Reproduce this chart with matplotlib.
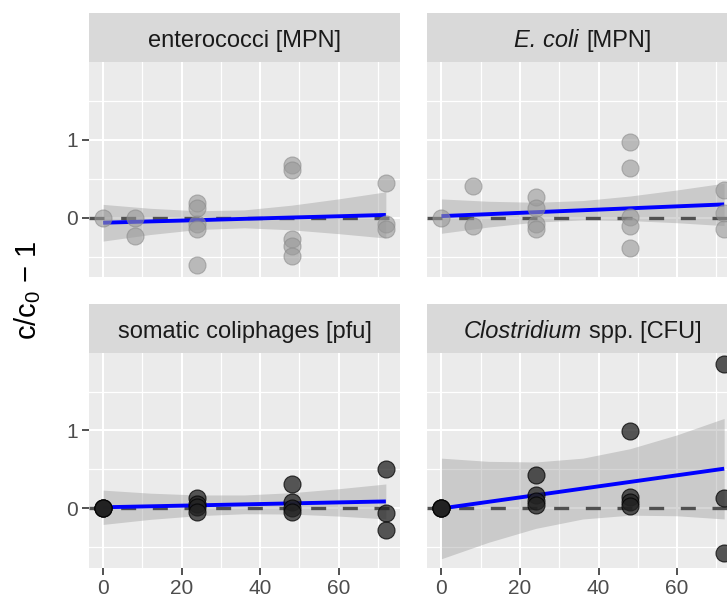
import matplotlib
matplotlib.use('Agg')
import matplotlib.pyplot as plt
from matplotlib.offsetbox import TextArea, HPacker, AnchoredOffsetbox

plt.rcParams['font.family'] = ['Liberation Sans', 'DejaVu Sans']
plt.rcParams['mathtext.fontset'] = 'custom'
plt.rcParams['mathtext.rm'] = 'Liberation Sans'
plt.rcParams['mathtext.it'] = 'Liberation Sans:italic'

# ---------------- data ----------------
# each title is a list of (text, style) pieces
titles = [
    [('enterococci [MPN]', 'normal')],
    [('E. coli', 'italic'), ('[MPN]', 'normal')],
    [('somatic coliphages [pfu]', 'normal')],
    [('Clostridium', 'italic'), ('spp. [CFU]', 'normal')],
]

entero_t = [0, 8, 8, 24, 24, 24, 24, 24, 48, 48, 48, 48, 48, 72, 72, 72]
entero_v = [0.0, 0.0, -0.235, 0.19, 0.13, -0.085, -0.14, -0.60,
            0.68, 0.61, -0.27, -0.36, -0.49, 0.45, -0.085, -0.15]

ecoli_t = [0, 8, 8, 24, 24, 24, 24, 48, 48, 48, 48, 48, 72, 72, 72]
ecoli_v = [0.0, 0.405, -0.11, 0.27, 0.12, -0.08, -0.15,
           0.97, 0.63, 0.01, -0.11, -0.385, 0.36, 0.06, -0.15]

somatic_t = [0, 0, 0, 0, 24, 24, 24, 24, 48, 48, 48, 48, 72, 72, 72]
somatic_v = [0, 0, 0, 0, 0.13, 0.06, 0.02, -0.04,
             0.31, 0.08, 0.0, -0.04, 0.51, -0.06, -0.28]

clost_t = [0, 0, 0, 0, 24, 24, 24, 24, 48, 48, 48, 48, 72, 72, 72]
clost_v = [0, 0, 0, 0, 0.43, 0.17, 0.10, 0.04,
           0.99, 0.15, 0.085, 0.03, 1.85, 0.14, -0.57]

# linear fit and confidence band, read at these times
fit_t = [0, 12, 24, 36, 48, 60, 72]
entero_fit = [-0.065, -0.048, -0.032, -0.015, 0.002, 0.018, 0.035]
entero_hi = [0.17, 0.12, 0.088, 0.10, 0.16, 0.241, 0.331]
entero_lo = [-0.30, -0.216, -0.152, -0.13, -0.156, -0.205, -0.261]

ecoli_fit = [0.02, 0.045, 0.07, 0.095, 0.12, 0.145, 0.17]
ecoli_hi = [0.24, 0.21, 0.197, 0.219, 0.277, 0.355, 0.442]
ecoli_lo = [-0.20, -0.12, -0.057, -0.029, -0.037, -0.065, -0.102]

somatic_fit = [0.015, 0.0275, 0.04, 0.0525, 0.065, 0.0775, 0.09]
somatic_hi = [0.235, 0.196, 0.173, 0.173, 0.202, 0.253, 0.314]
somatic_lo = [-0.205, -0.14, -0.093, -0.068, -0.072, -0.098, -0.134]

clost_fit = [0, 0.085, 0.17, 0.255, 0.34, 0.425, 0.51]
clost_hi = [0.645, 0.604, 0.596, 0.645, 0.766, 0.944, 1.155]
clost_lo = [-0.645, -0.434, -0.256, -0.135, -0.086, -0.094, -0.135]

x_major = [0, 20, 40, 60]
x_minor = [10, 30, 50, 70]
y_major = [0, 1]
y_minor = [-0.5, 0.5, 1.5]

panels = [
    (entero_t, entero_v, entero_fit, entero_lo, entero_hi),
    (ecoli_t, ecoli_v, ecoli_fit, ecoli_lo, ecoli_hi),
    (somatic_t, somatic_v, somatic_fit, somatic_lo, somatic_hi),
    (clost_t, clost_v, clost_fit, clost_lo, clost_hi),
]

# ---------------- layout ----------------
W, H = 727, 599
fig = plt.figure(figsize=(W / 100, H / 100), dpi=100)
fig.patch.set_facecolor('white')


def frac(x0, y0, x1, y1):
    return [x0 / W, 1 - y1 / H, (x1 - x0) / W, (y1 - y0) / H]


col_x = [(89, 400), (427.3, 738.3)]
row_strip = [(13.3, 62.3), (304.3, 353.3)]
row_plot = [(62.3, 277), (353.3, 567.7)]

for i, (tt, vv, ff, lo, hi) in enumerate(panels):
    r, c = divmod(i, 2)
    x0, x1 = col_x[c]
    # strip
    s0, s1 = row_strip[r]
    axs = fig.add_axes(frac(x0, s0, x1, s1))
    axs.set_facecolor('#d9d9d9')
    axs.set_xticks([])
    axs.set_yticks([])
    for sp in axs.spines.values():
        sp.set_visible(False)
    pieces = [TextArea(txt, textprops=dict(fontsize=17, color='#1a1a1a',
                                           fontstyle=sty))
              for txt, sty in titles[i]]
    box = HPacker(children=pieces, align='baseline', pad=0, sep=5)
    anch = AnchoredOffsetbox(loc='center', child=box, pad=0, borderpad=0,
                             frameon=False, bbox_to_anchor=(0.5, 0.44),
                             bbox_transform=axs.transAxes)
    axs.add_artist(anch)

    p0, p1 = row_plot[r]
    ax = fig.add_axes(frac(x0, p0, x1, p1))
    ax.set_facecolor('#ebebeb')
    for sp in ax.spines.values():
        sp.set_visible(False)
    ax.set_xlim(-3.6, 75.6)
    ax.set_ylim(-0.76, 1.99)
    ax.set_xticks(x_major)
    ax.set_xticks(x_minor, minor=True)
    ax.set_yticks(y_major)
    ax.set_yticks(y_minor, minor=True)
    ax.grid(which='major', color='white', linewidth=1.5)
    ax.grid(which='minor', color='white', linewidth=0.9)
    ax.set_axisbelow(True)
    ax.tick_params(which='minor', length=0)
    ax.tick_params(which='major', length=5, width=1.2, color='#333333',
                   labelsize=15, labelcolor='#4d4d4d', pad=3)
    if r == 0:
        ax.tick_params(axis='x', which='major', length=0, labelbottom=False)
    if c == 1:
        ax.tick_params(axis='y', which='major', length=0, labelleft=False)

    ax.fill_between(fit_t, lo, hi, color='#999999', alpha=0.4,
                    linewidth=0, zorder=2)
    ax.axhline(0, color='#505050', linewidth=2.4, linestyle=(0, (4.5, 5)),
               zorder=3)
    ax.plot(fit_t, ff, color='#0000ff', linewidth=2.8, zorder=4,
            solid_capstyle='butt')
    if r == 0:
        ax.scatter(tt, vv, s=150, facecolor='#999999', edgecolor='#8a8a8a',
                   alpha=0.6, linewidth=0.8, zorder=5)
    else:
        ax.scatter(tt, vv, s=150, facecolor='#222222', edgecolor='#000000',
                   alpha=0.75, linewidth=0.8, zorder=5)

fig.text(28 / W, 1 - 290 / H, 'c/c$_0$ \u2212 1', rotation=90,
         fontsize=21, ha='center', va='center', color='black')

fig.savefig('out.png', dpi=100)
